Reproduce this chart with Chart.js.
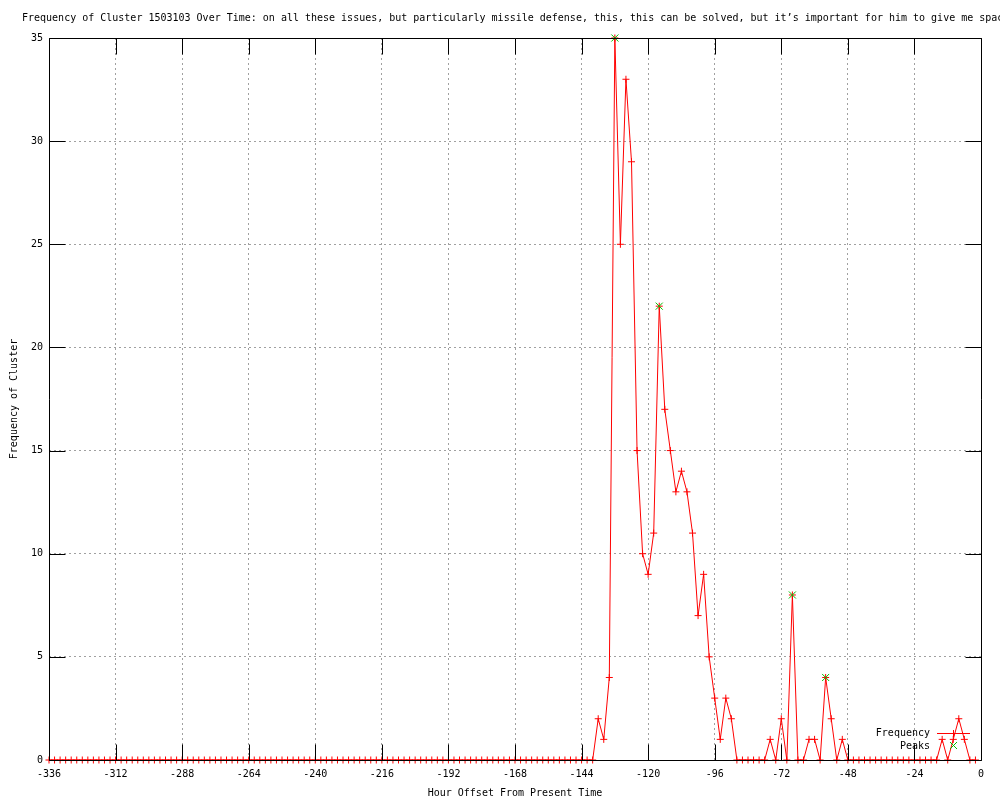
<!DOCTYPE html>
<html>
<head>
<meta charset="utf-8">
<script src="https://cdn.jsdelivr.net/npm/chart.js@4/dist/chart.umd.min.js"></script>
<style>
  html, body { margin: 0; padding: 0; background: #ffffff; }
  #wrap { width: 1000px; height: 800px; }
</style>
</head>
<body>
<div id="wrap"><canvas id="clusterChart" width="1000" height="800"></canvas></div>
<script>
// Hour offsets (every 2 hours, -336 .. -2)
const hours = [
  -336, -334, -332, -330, -328, -326, -324, -322, -320, -318, -316, -314,
  -312, -310, -308, -306, -304, -302, -300, -298, -296, -294, -292, -290,
  -288, -286, -284, -282, -280, -278, -276, -274, -272, -270, -268, -266,
  -264, -262, -260, -258, -256, -254, -252, -250, -248, -246, -244, -242,
  -240, -238, -236, -234, -232, -230, -228, -226, -224, -222, -220, -218,
  -216, -214, -212, -210, -208, -206, -204, -202, -200, -198, -196, -194,
  -192, -190, -188, -186, -184, -182, -180, -178, -176, -174, -172, -170,
  -168, -166, -164, -162, -160, -158, -156, -154, -152, -150, -148, -146,
  -144, -142, -140, -138, -136, -134, -132, -130, -128, -126, -124, -122,
  -120, -118, -116, -114, -112, -110, -108, -106, -104, -102, -100, -98,
  -96, -94, -92, -90, -88, -86, -84, -82, -80, -78, -76, -74,
  -72, -70, -68, -66, -64, -62, -60, -58, -56, -54, -52, -50,
  -48, -46, -44, -42, -40, -38, -36, -34, -32, -30, -28, -26,
  -24, -22, -20, -18, -16, -14, -12, -10, -8, -6, -4, -2
];

// Frequency of the cluster at each hour offset
const frequency = [
  0, 0, 0, 0, 0, 0, 0, 0, 0, 0, 0, 0,
  0, 0, 0, 0, 0, 0, 0, 0, 0, 0, 0, 0,
  0, 0, 0, 0, 0, 0, 0, 0, 0, 0, 0, 0,
  0, 0, 0, 0, 0, 0, 0, 0, 0, 0, 0, 0,
  0, 0, 0, 0, 0, 0, 0, 0, 0, 0, 0, 0,
  0, 0, 0, 0, 0, 0, 0, 0, 0, 0, 0, 0,
  0, 0, 0, 0, 0, 0, 0, 0, 0, 0, 0, 0,
  0, 0, 0, 0, 0, 0, 0, 0, 0, 0, 0, 0,
  0, 0, 0, 2, 1, 4, 35, 25, 33, 29, 15, 10,
  9, 11, 22, 17, 15, 13, 14, 13, 11, 7, 9, 5,
  3, 1, 3, 2, 0, 0, 0, 0, 0, 0, 1, 0,
  2, 0, 8, 0, 0, 1, 1, 0, 4, 2, 0, 1,
  0, 0, 0, 0, 0, 0, 0, 0, 0, 0, 0, 0,
  0, 0, 0, 0, 0, 1, 0, 1, 2, 1, 0, 0
];

// Detected peaks
const peakHours = [-132, -116, -68, -56];
const peakValues = [35, 22, 8, 4];

// Axis ticks
const xTicks = [-336, -312, -288, -264, -240, -216, -192, -168, -144, -120, -96, -72, -48, -24, 0];
const yTicks = [0, 5, 10, 15, 20, 25, 30, 35];

const titleText = 'Frequency of Cluster 1503103 Over Time: on all these issues, but particularly missile defense, this, this can be solved, but it\u2019s important for him to give me space';

const FONT = '"DejaVu Sans Mono", "Liberation Mono", monospace';
Chart.defaults.font.family = FONT;
Chart.defaults.font.size = 10;
Chart.defaults.color = '#000000';

// gnuplot-like frame, inward ticks, title and key
const gnuplotDecor = {
  id: 'gnuplotDecor',
  afterDatasetsDraw(chart) {
    const ctx = chart.ctx;
    const a = chart.chartArea;
    const xs = chart.scales.x, ys = chart.scales.y;
    const L = Math.round(a.left) + 0.5, R = Math.round(a.right) + 0.5;
    const T = Math.round(a.top) + 0.5, B = Math.round(a.bottom) + 0.5;
    const tick = 16;
    ctx.save();
    ctx.strokeStyle = '#000000';
    ctx.lineWidth = 1;
    ctx.beginPath();
    ctx.rect(L, T, R - L, B - T);
    xTicks.forEach(v => {
      const px = Math.round(xs.getPixelForValue(v)) + 0.5;
      ctx.moveTo(px, B); ctx.lineTo(px, B - tick);
      ctx.moveTo(px, T); ctx.lineTo(px, T + tick);
    });
    yTicks.forEach(v => {
      const py = Math.round(ys.getPixelForValue(v)) + 0.5;
      ctx.moveTo(L, py); ctx.lineTo(L + tick, py);
      ctx.moveTo(R, py); ctx.lineTo(R - tick, py);
    });
    ctx.stroke();

    // key
    ctx.font = '10px ' + FONT;
    ctx.fillStyle = '#000000';
    ctx.textAlign = 'right';
    ctx.textBaseline = 'middle';
    ctx.fillText('Frequency', 930, 733);
    ctx.fillText('Peaks', 930, 746);
    ctx.strokeStyle = '#ff0000';
    ctx.beginPath();
    ctx.moveTo(937, 733.5); ctx.lineTo(970, 733.5);
    ctx.moveTo(953.5, 730); ctx.lineTo(953.5, 737);
    ctx.stroke();
    ctx.strokeStyle = '#00c000';
    ctx.beginPath();
    ctx.moveTo(950, 742); ctx.lineTo(957, 749);
    ctx.moveTo(957, 742); ctx.lineTo(950, 749);
    ctx.stroke();

    // title
    ctx.fillStyle = '#000000';
    ctx.textAlign = 'left';
    ctx.fillText(titleText, 22, 18);
    ctx.restore();
  }
};

const ctx = document.getElementById('clusterChart').getContext('2d');
const clusterChart = new Chart(ctx, {
  type: 'line',
  data: {
    datasets: [
      {
        label: 'Peaks',
        data: peakHours.map((h, i) => ({ x: h, y: peakValues[i] })),
        showLine: false,
        pointStyle: 'crossRot',
        pointRadius: 5,
        pointBorderWidth: 1,
        pointBorderColor: '#00c000',
        borderColor: '#00c000',
        clip: 10,
        order: 0
      },
      {
        label: 'Frequency',
        data: hours.map((h, i) => ({ x: h, y: frequency[i] })),
        borderColor: '#ff0000',
        borderWidth: 1,
        tension: 0,
        pointStyle: 'cross',
        pointRadius: 3.5,
        pointBorderWidth: 1,
        pointBorderColor: '#ff0000',
        fill: false,
        clip: 10,
        order: 1
      }
    ]
  },
  options: {
    responsive: false,
    animation: false,
    events: [],
    layout: { padding: { top: 38, right: 19, left: 0, bottom: 0 } },
    plugins: {
      legend: { display: false },
      tooltip: { enabled: false },
      title: { display: false }
    },
    scales: {
      x: {
        type: 'linear',
        min: -336,
        max: 0,
        afterFit: s => { s.height = 40; },
        afterBuildTicks: s => { s.ticks = xTicks.map(v => ({ value: v })); },
        ticks: {
          padding: 8,
          maxRotation: 0,
          autoSkip: false,
          callback: v => String(v)
        },
        grid: { color: '#a0a0a0', lineWidth: 1, drawTicks: false, borderDash: [2, 3] },
        border: { display: false, dash: [2, 3] },
        title: {
          display: true,
          text: 'Hour Offset From Present Time',
          padding: { top: 0, bottom: 1 }
        }
      },
      y: {
        min: 0,
        max: 35,
        afterFit: s => { s.width = 49; },
        afterBuildTicks: s => { s.ticks = yTicks.map(v => ({ value: v })); },
        ticks: {
          padding: 6,
          callback: v => String(v)
        },
        grid: { color: '#a0a0a0', lineWidth: 1, drawTicks: false, borderDash: [2, 3] },
        border: { display: false, dash: [2, 3] },
        title: {
          display: true,
          text: 'Frequency of Cluster',
          padding: { top: 8, bottom: 0 }
        }
      }
    }
  },
  plugins: [gnuplotDecor]
});
</script>
</body>
</html>
